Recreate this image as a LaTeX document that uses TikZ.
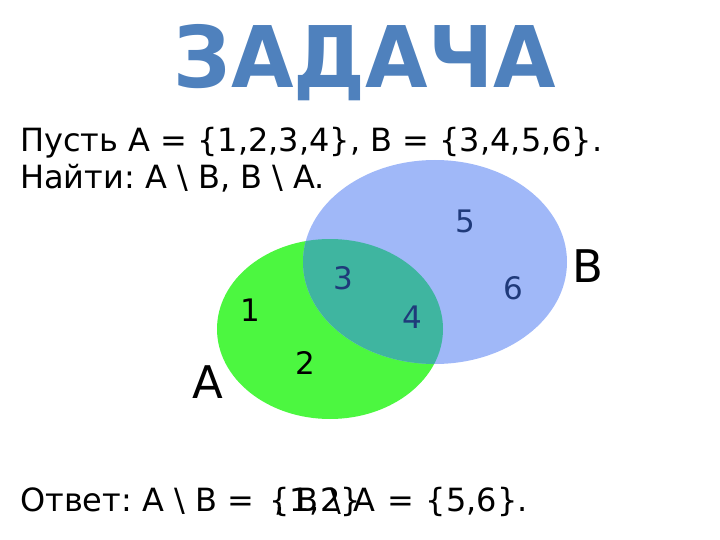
\documentclass[tikz,border=0pt]{standalone}
\usepackage{fontspec}
\setmainfont{DejaVu Sans}
\usepackage{tikz}

\definecolor{titleblue}{HTML}{4F81BD}
\definecolor{setgreen}{HTML}{4CF740}
\definecolor{setblue}{HTML}{A0B8F8}
\definecolor{setboth}{HTML}{3FB5A0}
\definecolor{numblue}{HTML}{1F3A7A}

\begin{document}
\frenchspacing
\begin{tikzpicture}[x=1pt,y=-1pt,
	txt/.style={anchor=base west,inner sep=0pt,font=\fontsize{32}{38}\selectfont},
	num/.style={inner sep=0pt,font=\fontsize{31}{36}\selectfont},
	setname/.style={inner sep=0pt,font=\fontsize{45}{50}\selectfont}]
	
	\useasboundingbox (0,0) rectangle (720,540);
	
	% title
	\node[anchor=base,inner sep=0pt,xscale=0.95,text=titleblue,font=\fontsize{85}{90}\selectfont\bfseries] (title) at (365,88) {ЗАДАЧА};
	
	% task
	\node[txt] (given) at (20,152) {Пусть A = \{1,2,3,4\}, B = \{3,4,5,6\}.};
	\node[txt] (find) at (20,189) {Найти: A \textbackslash{} B, B \textbackslash{} A.};
	
	% sets
	\fill[setgreen] (330,329) ellipse (113 and 90);
	\fill[setblue] (435,262) ellipse (132 and 102);
	\begin{scope}
		\clip (330,329) ellipse (113 and 90);
		\fill[setboth] (435,262) ellipse (132 and 102);
	\end{scope}
	
	\node[num] (n1) at (250,310) {1};
	\node[num] (n2) at (305,363) {2};
	\node[num,text=numblue] (n3) at (343,278) {3};
	\node[num,text=numblue] (n4) at (412,317) {4};
	\node[num,text=numblue] (n5) at (465,221) {5};
	\node[num,text=numblue] (n6) at (513,288) {6};
	
	\node[setname] (a) at (208,382) {A};
	\node[setname] (b) at (588,266) {B};
	
	% answer (the two parts lie over each other, as in the slide)
	\node[txt] (ans1) at (20,511) {Ответ: A \textbackslash{} B =\hspace{15pt}\{1,2\}};
	\node[txt] (ans2) at (274,511) {\spaceskip=12pt, B \textbackslash{} A = \{5,6\}.};
	
\end{tikzpicture}
\end{document}
